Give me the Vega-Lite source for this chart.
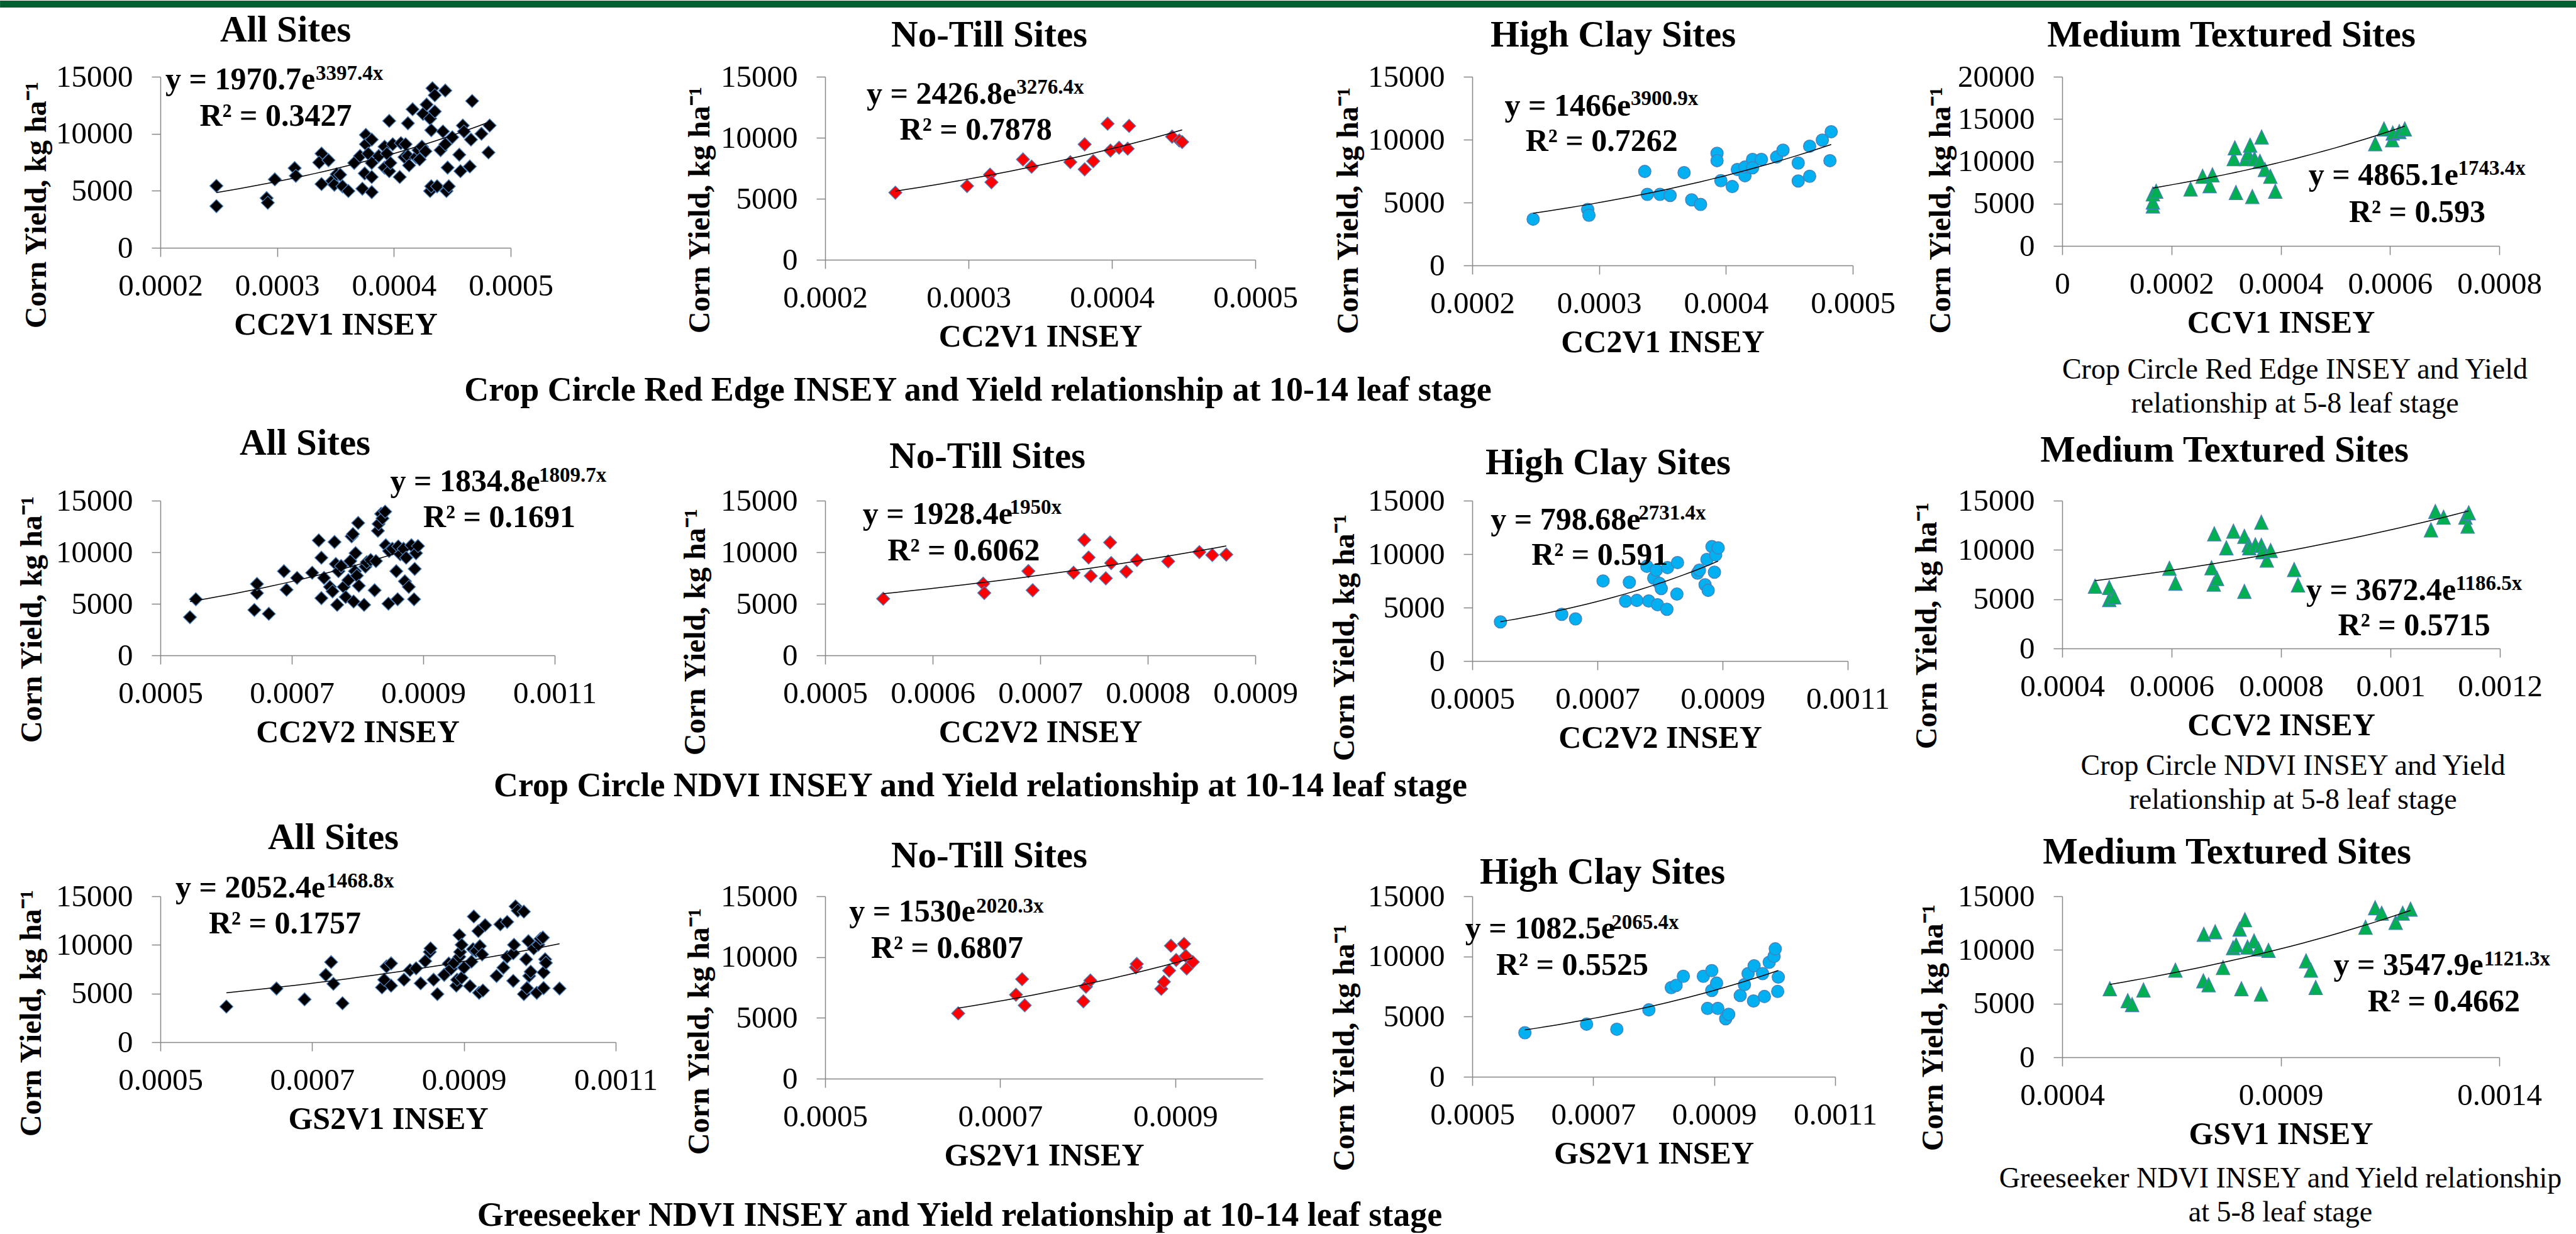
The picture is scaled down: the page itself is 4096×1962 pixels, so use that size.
{
"$schema":"https://vega.github.io/schema/vega-lite/v6.json",
"background":"#ffffff",
"padding":0,
"config":{
 "view":{"stroke":null},
 "axis":{"grid":false,"domainColor":"#868686","domainWidth":1.5,"tickColor":"#868686","tickWidth":1.5,"tickSize":14,"labelFont":"Liberation Serif","labelFontSize":49,"labelColor":"#000000","labelFlush":false,"labelOverlap":false,"titleFont":"Liberation Serif","titleFontWeight":"bold","titleColor":"#000000"},
 "axisX":{"labelPadding":22,"titleFontSize":50,"titleBaseline":"alphabetic"},
 "axisY":{"labelPadding":30}
},
"datasets":{
"p1":[{"x":0.000248,"y":5430},{"x":0.000248,"y":3650},{"x":0.000291,"y":4360},{"x":0.000292,"y":3950},{"x":0.000298,"y":6000},{"x":0.000315,"y":6990},{"x":0.000316,"y":6310},{"x":0.000338,"y":8260},{"x":0.000336,"y":7480},{"x":0.000344,"y":7680},{"x":0.000338,"y":5590},{"x":0.000347,"y":5860},{"x":0.000349,"y":5530},{"x":0.000351,"y":6450},{"x":0.000354,"y":6410},{"x":0.000356,"y":5390},{"x":0.000361,"y":4980},{"x":0.000366,"y":7440},{"x":0.000371,"y":8050},{"x":0.000373,"y":5180},{"x":0.000375,"y":6520},{"x":0.000376,"y":9900},{"x":0.000376,"y":9080},{"x":0.000378,"y":8260},{"x":0.000381,"y":4880},{"x":0.000381,"y":9490},{"x":0.000381,"y":7440},{"x":0.000381,"y":6210},{"x":0.000387,"y":8050},{"x":0.000392,"y":7030},{"x":0.000392,"y":8870},{"x":0.000394,"y":8260},{"x":0.000396,"y":11130},{"x":0.000396,"y":6720},{"x":0.000397,"y":7440},{"x":0.000399,"y":9080},{"x":0.000405,"y":6210},{"x":0.000406,"y":9180},{"x":0.000409,"y":7950},{"x":0.00041,"y":9080},{"x":0.000412,"y":10920},{"x":0.000412,"y":8050},{"x":0.000413,"y":7230},{"x":0.000416,"y":12150},{"x":0.000419,"y":7950},{"x":0.000421,"y":8560},{"x":0.000422,"y":7750},{"x":0.000424,"y":8870},{"x":0.000425,"y":11740},{"x":0.000427,"y":8460},{"x":0.000428,"y":12560},{"x":0.000431,"y":11330},{"x":0.000431,"y":4980},{"x":0.000432,"y":10310},{"x":0.000432,"y":5390},{"x":0.000433,"y":13990},{"x":0.000435,"y":11950},{"x":0.000435,"y":13380},{"x":0.000437,"y":5390},{"x":0.00044,"y":8560},{"x":0.000442,"y":10200},{"x":0.000444,"y":13790},{"x":0.000444,"y":9080},{"x":0.000445,"y":4980},{"x":0.000446,"y":7030},{"x":0.000447,"y":5390},{"x":0.00045,"y":9690},{"x":0.000456,"y":8160},{"x":0.000457,"y":6720},{"x":0.000459,"y":10720},{"x":0.00046,"y":10200},{"x":0.000466,"y":9490},{"x":0.000465,"y":7130},{"x":0.000467,"y":12870},{"x":0.000475,"y":10000},{"x":0.000482,"y":10720},{"x":0.000481,"y":8360}],
"p2":[{"x":0.000249,"y":5500},{"x":0.000299,"y":6040},{"x":0.000315,"y":6980},{"x":0.000316,"y":6350},{"x":0.000338,"y":8220},{"x":0.000344,"y":7630},{"x":0.000371,"y":8000},{"x":0.000381,"y":9460},{"x":0.000381,"y":7410},{"x":0.000387,"y":8080},{"x":0.000397,"y":11150},{"x":0.000399,"y":8950},{"x":0.000405,"y":9180},{"x":0.000411,"y":9100},{"x":0.000412,"y":10970},{"x":0.000442,"y":10090},{"x":0.000447,"y":9770},{"x":0.000449,"y":9650}],
"p3":[{"x":0.000248,"y":3680},{"x":0.000291,"y":4450},{"x":0.000292,"y":3990},{"x":0.000336,"y":7470},{"x":0.000338,"y":5650},{"x":0.000348,"y":5650},{"x":0.000356,"y":5560},{"x":0.000367,"y":7380},{"x":0.000373,"y":5210},{"x":0.00038,"y":4850},{"x":0.000393,"y":8910},{"x":0.000393,"y":8330},{"x":0.000396,"y":6740},{"x":0.000405,"y":6270},{"x":0.000409,"y":7630},{"x":0.000415,"y":7130},{"x":0.000415,"y":7820},{"x":0.000421,"y":8430},{"x":0.000421,"y":7760},{"x":0.000428,"y":8430},{"x":0.00044,"y":8620},{"x":0.000445,"y":9160},{"x":0.000457,"y":8140},{"x":0.000457,"y":6710},{"x":0.000466,"y":9480},{"x":0.000466,"y":7090},{"x":0.000476,"y":9960},{"x":0.000482,"y":8330},{"x":0.000483,"y":10630}],
"p4":[{"x":0.000166,"y":4670},{"x":0.000166,"y":5150},{"x":0.000166,"y":6110},{"x":0.000172,"y":6430},{"x":0.000235,"y":6690},{"x":0.000257,"y":8190},{"x":0.00027,"y":7070},{"x":0.000275,"y":8350},{"x":0.000314,"y":10270},{"x":0.000316,"y":11550},{"x":0.000318,"y":6270},{"x":0.000336,"y":10270},{"x":0.00034,"y":10910},{"x":0.000344,"y":11870},{"x":0.000348,"y":5790},{"x":0.000352,"y":10270},{"x":0.000362,"y":9950},{"x":0.000365,"y":12830},{"x":0.000371,"y":8990},{"x":0.000381,"y":8190},{"x":0.00039,"y":6430},{"x":0.000573,"y":12030},{"x":0.000589,"y":13790},{"x":0.000604,"y":12510},{"x":0.000605,"y":13310},{"x":0.000617,"y":13470},{"x":0.000627,"y":13790}],
"p5":[{"x":0.000545,"y":3700},{"x":0.000554,"y":5440},{"x":0.000643,"y":4400},{"x":0.000647,"y":6030},{"x":0.000647,"y":6920},{"x":0.000665,"y":4030},{"x":0.000688,"y":8160},{"x":0.000692,"y":6360},{"x":0.000708,"y":7510},{"x":0.000731,"y":8010},{"x":0.000741,"y":11150},{"x":0.000745,"y":5550},{"x":0.000745,"y":9470},{"x":0.000749,"y":7510},{"x":0.000758,"y":6640},{"x":0.000762,"y":6200},{"x":0.000765,"y":10990},{"x":0.000767,"y":8860},{"x":0.000769,"y":4900},{"x":0.000771,"y":8160},{"x":0.000775,"y":8660},{"x":0.000779,"y":6640},{"x":0.000782,"y":5660},{"x":0.000786,"y":7290},{"x":0.000789,"y":9140},{"x":0.000791,"y":11540},{"x":0.000793,"y":11760},{"x":0.000794,"y":5220},{"x":0.000796,"y":8160},{"x":0.000797,"y":9910},{"x":0.000799,"y":7730},{"x":0.000801,"y":12840},{"x":0.000802,"y":6750},{"x":0.00081,"y":4900},{"x":0.000812,"y":8600},{"x":0.000814,"y":9030},{"x":0.00082,"y":9250},{"x":0.000826,"y":6310},{"x":0.000828,"y":9140},{"x":0.000831,"y":12080},{"x":0.000832,"y":12740},{"x":0.000836,"y":13720},{"x":0.000838,"y":13280},{"x":0.000842,"y":13930},{"x":0.000843,"y":10670},{"x":0.000847,"y":5010},{"x":0.000848,"y":10120},{"x":0.000853,"y":10340},{"x":0.000859,"y":8160},{"x":0.000861,"y":5440},{"x":0.000862,"y":10560},{"x":0.000865,"y":9800},{"x":0.00087,"y":10340},{"x":0.000872,"y":7180},{"x":0.000874,"y":9470},{"x":0.000878,"y":6640},{"x":0.000882,"y":10670},{"x":0.000886,"y":5440},{"x":0.000887,"y":8380},{"x":0.000889,"y":9910},{"x":0.000892,"y":10600}],
"p6":[{"x":0.000554,"y":5490},{"x":0.000647,"y":6950},{"x":0.000648,"y":6050},{"x":0.000689,"y":8170},{"x":0.000693,"y":6310},{"x":0.000731,"y":8010},{"x":0.000741,"y":11190},{"x":0.000745,"y":9490},{"x":0.000747,"y":7700},{"x":0.000761,"y":7470},{"x":0.000765,"y":10950},{"x":0.000766,"y":8950},{"x":0.00078,"y":8120},{"x":0.00079,"y":9230},{"x":0.000819,"y":9110},{"x":0.000848,"y":10010},{"x":0.00086,"y":9730},{"x":0.000873,"y":9770}],
"p7":[{"x":0.000545,"y":3660},{"x":0.000643,"y":4370},{"x":0.000665,"y":3940},{"x":0.000709,"y":7490},{"x":0.000745,"y":5600},{"x":0.000751,"y":7370},{"x":0.000763,"y":5670},{"x":0.000779,"y":8860},{"x":0.000782,"y":5620},{"x":0.00079,"y":7750},{"x":0.000794,"y":8500},{"x":0.000796,"y":5270},{"x":0.000799,"y":7270},{"x":0.000802,"y":6780},{"x":0.000811,"y":4840},{"x":0.000812,"y":8740},{"x":0.000827,"y":6260},{"x":0.000828,"y":9210},{"x":0.00086,"y":8220},{"x":0.000863,"y":8500},{"x":0.000872,"y":7130},{"x":0.000875,"y":9500},{"x":0.000877,"y":6610},{"x":0.000883,"y":10700},{"x":0.000887,"y":8310},{"x":0.000889,"y":9920},{"x":0.000893,"y":10580}],
"p8":[{"x":0.00046,"y":6280},{"x":0.000486,"y":6150},{"x":0.000486,"y":4930},{"x":0.000495,"y":5190},{"x":0.000596,"y":8100},{"x":0.000607,"y":6590},{"x":0.000673,"y":8150},{"x":0.000677,"y":6490},{"x":0.000683,"y":7060},{"x":0.000678,"y":11600},{"x":0.0007,"y":10170},{"x":0.000713,"y":11860},{"x":0.000733,"y":11340},{"x":0.000733,"y":5760},{"x":0.000741,"y":10480},{"x":0.000742,"y":10170},{"x":0.000753,"y":10480},{"x":0.000764,"y":10430},{"x":0.000764,"y":12770},{"x":0.000766,"y":9780},{"x":0.000774,"y":8930},{"x":0.000781,"y":9910},{"x":0.000824,"y":7970},{"x":0.000831,"y":6410},{"x":0.001074,"y":11990},{"x":0.001082,"y":13860},{"x":0.001097,"y":13290},{"x":0.001137,"y":13290},{"x":0.001141,"y":12380},{"x":0.001143,"y":13730}],
"p9":[{"x":0.000587,"y":3660},{"x":0.000653,"y":5510},{"x":0.00069,"y":4400},{"x":0.000718,"y":6920},{"x":0.000725,"y":8230},{"x":0.000728,"y":6000},{"x":0.00074,"y":4000},{"x":0.000792,"y":5630},{"x":0.000795,"y":6420},{"x":0.000798,"y":7780},{"x":0.000804,"y":5810},{"x":0.000804,"y":8100},{"x":0.000821,"y":6420},{"x":0.000829,"y":7410},{"x":0.000837,"y":7590},{"x":0.000843,"y":6050},{"x":0.000849,"y":8330},{"x":0.000855,"y":9270},{"x":0.000856,"y":9640},{"x":0.00086,"y":6420},{"x":0.000865,"y":4940},{"x":0.000874,"y":6920},{"x":0.00088,"y":8080},{"x":0.000883,"y":7540},{"x":0.000887,"y":8150},{"x":0.00089,"y":5810},{"x":0.000891,"y":6420},{"x":0.000894,"y":11000},{"x":0.000894,"y":8770},{"x":0.000895,"y":9270},{"x":0.000897,"y":10010},{"x":0.000897,"y":6620},{"x":0.0009,"y":7660},{"x":0.000908,"y":5760},{"x":0.00091,"y":8280},{"x":0.000913,"y":12920},{"x":0.000912,"y":9560},{"x":0.000916,"y":9390},{"x":0.000919,"y":11420},{"x":0.00092,"y":5070},{"x":0.000921,"y":9880},{"x":0.000924,"y":9020},{"x":0.000925,"y":5310},{"x":0.000928,"y":12030},{"x":0.000943,"y":6800},{"x":0.000948,"y":12110},{"x":0.000952,"y":7660},{"x":0.000957,"y":12360},{"x":0.000957,"y":8770},{"x":0.000965,"y":9140},{"x":0.000965,"y":6300},{"x":0.000966,"y":10010},{"x":0.000968,"y":13960},{"x":0.000971,"y":13520},{"x":0.000979,"y":13420},{"x":0.000979,"y":4940},{"x":0.000982,"y":8520},{"x":0.000983,"y":5560},{"x":0.000985,"y":10380},{"x":0.000986,"y":6800},{"x":0.000988,"y":7240},{"x":0.000992,"y":9640},{"x":0.000996,"y":5070},{"x":0.000998,"y":10010},{"x":0.001001,"y":10630},{"x":0.001004,"y":10750},{"x":0.001005,"y":5560},{"x":0.001005,"y":7170},{"x":0.001007,"y":8520},{"x":0.001008,"y":8150},{"x":0.001026,"y":5510}],
"p10":[{"x":0.000652,"y":5370},{"x":0.000718,"y":6900},{"x":0.000725,"y":8180},{"x":0.000728,"y":6030},{"x":0.000795,"y":6360},{"x":0.000798,"y":7560},{"x":0.000803,"y":8070},{"x":0.000855,"y":9150},{"x":0.000856,"y":9430},{"x":0.000884,"y":7390},{"x":0.000887,"y":7960},{"x":0.000893,"y":8880},{"x":0.000895,"y":10930},{"x":0.000901,"y":9760},{"x":0.00091,"y":11080},{"x":0.000912,"y":10090},{"x":0.000913,"y":9060},{"x":0.00092,"y":9590}],
"p11":[{"x":0.000587,"y":3660},{"x":0.000689,"y":4370},{"x":0.000739,"y":3950},{"x":0.000792,"y":5560},{"x":0.000829,"y":7410},{"x":0.000837,"y":7590},{"x":0.000849,"y":8350},{"x":0.000882,"y":8350},{"x":0.000889,"y":5680},{"x":0.000896,"y":8820},{"x":0.000896,"y":7170},{"x":0.000904,"y":7780},{"x":0.000906,"y":5680},{"x":0.000919,"y":4820},{"x":0.000924,"y":5190},{"x":0.000943,"y":6750},{"x":0.00095,"y":7660},{"x":0.000956,"y":8570},{"x":0.000965,"y":6300},{"x":0.000966,"y":9220},{"x":0.00098,"y":8570},{"x":0.000983,"y":6670},{"x":0.000991,"y":9510},{"x":0.000999,"y":10010},{"x":0.001001,"y":10630},{"x":0.001005,"y":7090},{"x":0.001006,"y":8280}],
"p12":[{"x":0.000509,"y":6350},{"x":0.00055,"y":5240},{"x":0.00056,"y":4870},{"x":0.000586,"y":6230},{"x":0.000659,"y":8080},{"x":0.000723,"y":7090},{"x":0.000735,"y":6720},{"x":0.000724,"y":11420},{"x":0.00075,"y":11660},{"x":0.000768,"y":8330},{"x":0.000791,"y":10180},{"x":0.000798,"y":10430},{"x":0.000806,"y":11910},{"x":0.000818,"y":12780},{"x":0.00081,"y":6350},{"x":0.000824,"y":10230},{"x":0.000839,"y":10800},{"x":0.000849,"y":10060},{"x":0.000855,"y":5860},{"x":0.000872,"y":9930},{"x":0.000958,"y":8950},{"x":0.000969,"y":8080},{"x":0.00098,"y":6470},{"x":0.001094,"y":12080},{"x":0.001116,"y":13890},{"x":0.001131,"y":13390},{"x":0.001163,"y":12530},{"x":0.001179,"y":13390},{"x":0.001197,"y":13760}]
},
"columns":4,
"spacing":{"row":374,"column":333},
"bounds":"flush",
"align":"each",
"concat":[
{"width":557,"height":272,"layer":[
 {"data":{"name":"p1"},"mark":{"type":"point","shape":"diamond","filled":true,"fill":"#000000","stroke":"#4a7ebb","strokeWidth":1.3,"size":440,"opacity":1},
  "encoding":{"x":{"field":"x","type":"quantitative","scale":{"domain":[0.0002,0.0005],"nice":false,"zero":false},"axis":{"values":[0.0002,0.0003,0.0004,0.0005],"format":"~g","title":"CC2V1 INSEY","titleY":137}},
   "y":{"field":"y","type":"quantitative","scale":{"domain":[0,15000],"nice":false,"zero":false},"axis":{"values":[0,5000,10000,15000],"format":"d","title":null}}}},
 {"data":{"name":"p1"},"transform":[{"regression":"y","on":"x","method":"exp"}],"mark":{"type":"line","color":"#000000","strokeWidth":1.5},"encoding":{"x":{"field":"x","type":"quantitative"},"y":{"field":"y","type":"quantitative"}}},
 {"data":{"values":[{"label":"Corn Yield, kg ha⁻¹"}]},"mark":{"type":"text","font":"Liberation Serif","fontSize":48,"fontWeight":"bold","align":"center","baseline":"top","angle":270,"color":"#000000"},"encoding":{"text":{"field":"label"},"x":{"datum":0.0000813},"y":{"datum":3750}}},
 {"data":{"values":[{"label":"All Sites"}]},"mark":{"type":"text","font":"Liberation Serif","fontSize":59,"fontWeight":"bold","align":"center","baseline":"alphabetic","color":"#000000"},"encoding":{"text":{"field":"label"},"x":{"datum":0.0003072},"y":{"datum":18088}}},
 {"data":{"values":[{"label":"y = 1970.7e"}]},"mark":{"type":"text","font":"Liberation Serif","fontSize":50,"fontWeight":"bold","align":"left","baseline":"alphabetic","color":"#000000"},"encoding":{"text":{"field":"label"},"x":{"datum":0.0002043},"y":{"datum":13891}}},
 {"data":{"values":[{"label":"3397.4x"}]},"mark":{"type":"text","font":"Liberation Serif","fontSize":33,"fontWeight":"bold","align":"left","baseline":"alphabetic","color":"#000000"},"encoding":{"text":{"field":"label"},"x":{"datum":0.000333},"y":{"datum":14724}}},
 {"data":{"values":[{"label":"R² = 0.3427"}]},"mark":{"type":"text","font":"Liberation Serif","fontSize":50,"fontWeight":"bold","align":"left","baseline":"alphabetic","color":"#000000"},"encoding":{"text":{"field":"label"},"x":{"datum":0.0002336},"y":{"datum":10725}}},
 {"data":{"values":[{"band":"header"}]},"mark":{"type":"rect","color":"#00602f"},"encoding":{"x":{"datum":0.0000627},"x2":{"datum":0.0023},"y":{"datum":21673},"y2":{"datum":21066}}}
]},
{"width":684,"height":291,"layer":[
 {"data":{"name":"p2"},"mark":{"type":"point","shape":"diamond","filled":true,"fill":"#ff0000","stroke":"#4a7ebb","strokeWidth":1.3,"size":440,"opacity":1},
  "encoding":{"x":{"field":"x","type":"quantitative","scale":{"domain":[0.0002,0.0005],"nice":false,"zero":false},"axis":{"values":[0.0002,0.0003,0.0004,0.0005],"format":"~g","title":"CC2V1 INSEY","titleY":137}},
   "y":{"field":"y","type":"quantitative","scale":{"domain":[0,15000],"nice":false,"zero":false},"axis":{"values":[0,5000,10000,15000],"format":"d","title":null}}}},
 {"data":{"name":"p2"},"transform":[{"regression":"y","on":"x","method":"exp"}],"mark":{"type":"line","color":"#000000","strokeWidth":1.5},"encoding":{"x":{"field":"x","type":"quantitative"},"y":{"field":"y","type":"quantitative"}}},
 {"data":{"values":[{"label":"Corn Yield, kg ha⁻¹"}]},"mark":{"type":"text","font":"Liberation Serif","fontSize":48,"fontWeight":"bold","align":"center","baseline":"top","angle":270,"color":"#000000"},"encoding":{"text":{"field":"label"},"x":{"datum":0.0001026},"y":{"datum":4072}}},
 {"data":{"values":[{"label":"No-Till Sites"}]},"mark":{"type":"text","font":"Liberation Serif","fontSize":59,"fontWeight":"bold","align":"center","baseline":"alphabetic","color":"#000000"},"encoding":{"text":{"field":"label"},"x":{"datum":0.0003145},"y":{"datum":17474}}},
 {"data":{"values":[{"label":"y = 2426.8e"}]},"mark":{"type":"text","font":"Liberation Serif","fontSize":50,"fontWeight":"bold","align":"left","baseline":"alphabetic","color":"#000000"},"encoding":{"text":{"field":"label"},"x":{"datum":0.000229},"y":{"datum":12799}}},
 {"data":{"values":[{"label":"3276.4x"}]},"mark":{"type":"text","font":"Liberation Serif","fontSize":33,"fontWeight":"bold","align":"left","baseline":"alphabetic","color":"#000000"},"encoding":{"text":{"field":"label"},"x":{"datum":0.0003334},"y":{"datum":13629}}},
 {"data":{"values":[{"label":"R² = 0.7878"}]},"mark":{"type":"text","font":"Liberation Serif","fontSize":50,"fontWeight":"bold","align":"left","baseline":"alphabetic","color":"#000000"},"encoding":{"text":{"field":"label"},"x":{"datum":0.000252},"y":{"datum":9835}}},
 {"data":{"values":[{"label":"Crop Circle Red Edge INSEY and Yield relationship at 10-14 leaf stage"}]},"mark":{"type":"text","font":"Liberation Serif","fontSize":54,"fontWeight":"bold","align":"center","baseline":"alphabetic","color":"#000000"},"encoding":{"text":{"field":"label"},"x":{"datum":0.0003066},"y":{"datum":-11546}}}
]},
{"width":605,"height":300,"layer":[
 {"data":{"name":"p3"},"mark":{"type":"point","shape":"circle","filled":true,"fill":"#00b0f0","stroke":"#4a7ebb","strokeWidth":1.3,"size":390,"opacity":1},
  "encoding":{"x":{"field":"x","type":"quantitative","scale":{"domain":[0.0002,0.0005],"nice":false,"zero":false},"axis":{"values":[0.0002,0.0003,0.0004,0.0005],"format":"~g","title":"CC2V1 INSEY","titleY":137}},
   "y":{"field":"y","type":"quantitative","scale":{"domain":[0,15000],"nice":false,"zero":false},"axis":{"values":[0,5000,10000,15000],"format":"d","title":null}}}},
 {"data":{"name":"p3"},"transform":[{"regression":"y","on":"x","method":"exp"}],"mark":{"type":"line","color":"#000000","strokeWidth":1.5},"encoding":{"x":{"field":"x","type":"quantitative"},"y":{"field":"y","type":"quantitative"}}},
 {"data":{"values":[{"label":"Corn Yield, kg ha⁻¹"}]},"mark":{"type":"text","font":"Liberation Serif","fontSize":48,"fontWeight":"bold","align":"center","baseline":"top","angle":270,"color":"#000000"},"encoding":{"text":{"field":"label"},"x":{"datum":0.0000909},"y":{"datum":4350}}},
 {"data":{"values":[{"label":"High Clay Sites"}]},"mark":{"type":"text","font":"Liberation Serif","fontSize":59,"fontWeight":"bold","align":"center","baseline":"alphabetic","color":"#000000"},"encoding":{"text":{"field":"label"},"x":{"datum":0.0003111},"y":{"datum":17400}}},
 {"data":{"values":[{"label":"y = 1466e"}]},"mark":{"type":"text","font":"Liberation Serif","fontSize":50,"fontWeight":"bold","align":"left","baseline":"alphabetic","color":"#000000"},"encoding":{"text":{"field":"label"},"x":{"datum":0.0002255},"y":{"datum":11925}}},
 {"data":{"values":[{"label":"3900.9x"}]},"mark":{"type":"text","font":"Liberation Serif","fontSize":33,"fontWeight":"bold","align":"left","baseline":"alphabetic","color":"#000000"},"encoding":{"text":{"field":"label"},"x":{"datum":0.000325},"y":{"datum":12770}}},
 {"data":{"values":[{"label":"R² = 0.7262"}]},"mark":{"type":"text","font":"Liberation Serif","fontSize":50,"fontWeight":"bold","align":"left","baseline":"alphabetic","color":"#000000"},"encoding":{"text":{"field":"label"},"x":{"datum":0.000242},"y":{"datum":9105}}}
]},
{"width":695,"height":269,"layer":[
 {"data":{"name":"p4"},"mark":{"type":"point","shape":"M0,-1.1L1,1L-1,1Z","filled":true,"fill":"#00b050","stroke":"#4a7ebb","strokeWidth":1.3,"size":462,"opacity":1},
  "encoding":{"x":{"field":"x","type":"quantitative","scale":{"domain":[0,0.0008],"nice":false,"zero":false},"axis":{"values":[0,0.0002,0.0004,0.0006,0.0008],"format":"~g","title":"CCV1 INSEY","titleY":137}},
   "y":{"field":"y","type":"quantitative","scale":{"domain":[0,20000],"nice":false,"zero":false},"axis":{"values":[0,5000,10000,15000,20000],"format":"d","title":null}}}},
 {"data":{"name":"p4"},"transform":[{"regression":"y","on":"x","method":"exp"}],"mark":{"type":"line","color":"#000000","strokeWidth":1.5},"encoding":{"x":{"field":"x","type":"quantitative"},"y":{"field":"y","type":"quantitative"}}},
 {"data":{"values":[{"label":"Corn Yield, kg ha⁻¹"}]},"mark":{"type":"text","font":"Liberation Serif","fontSize":48,"fontWeight":"bold","align":"center","baseline":"top","angle":270,"color":"#000000"},"encoding":{"text":{"field":"label"},"x":{"datum":-0.0002486},"y":{"datum":4201}}},
 {"data":{"values":[{"label":"Medium Textured Sites"}]},"mark":{"type":"text","font":"Liberation Serif","fontSize":59,"fontWeight":"bold","align":"center","baseline":"alphabetic","color":"#000000"},"encoding":{"text":{"field":"label"},"x":{"datum":0.0003097},"y":{"datum":23569}}},
 {"data":{"values":[{"label":"y = 4865.1e"}]},"mark":{"type":"text","font":"Liberation Serif","fontSize":50,"fontWeight":"bold","align":"left","baseline":"alphabetic","color":"#000000"},"encoding":{"text":{"field":"label"},"x":{"datum":0.000451},"y":{"datum":7190}}},
 {"data":{"values":[{"label":"1743.4x"}]},"mark":{"type":"text","font":"Liberation Serif","fontSize":33,"fontWeight":"bold","align":"left","baseline":"alphabetic","color":"#000000"},"encoding":{"text":{"field":"label"},"x":{"datum":0.0007247},"y":{"datum":8386}}},
 {"data":{"values":[{"label":"R² = 0.593"}]},"mark":{"type":"text","font":"Liberation Serif","fontSize":50,"fontWeight":"bold","align":"left","baseline":"alphabetic","color":"#000000"},"encoding":{"text":{"field":"label"},"x":{"datum":0.0005249},"y":{"datum":2810}}},
 {"data":{"values":[{"label":"Crop Circle Red Edge INSEY and Yield\nrelationship at 5-8 leaf stage"}]},"mark":{"type":"text","font":"Liberation Serif","fontSize":46,"fontWeight":"normal","align":"center","baseline":"alphabetic","lineBreak":"\n","lineHeight":54,"color":"#000000"},"encoding":{"text":{"field":"label"},"x":{"datum":0.0004259},"y":{"datum":-15688}}}
]},
{"width":627,"height":246,"layer":[
 {"data":{"name":"p5"},"mark":{"type":"point","shape":"diamond","filled":true,"fill":"#000000","stroke":"#4a7ebb","strokeWidth":1.3,"size":440,"opacity":1},
  "encoding":{"x":{"field":"x","type":"quantitative","scale":{"domain":[0.0005,0.0011],"nice":false,"zero":false},"axis":{"values":[0.0005,0.0007,0.0009,0.0011],"format":"~g","title":"CC2V2 INSEY","titleY":137}},
   "y":{"field":"y","type":"quantitative","scale":{"domain":[0,15000],"nice":false,"zero":false},"axis":{"values":[0,5000,10000,15000],"format":"d","title":null}}}},
 {"data":{"name":"p5"},"transform":[{"regression":"y","on":"x","method":"exp"}],"mark":{"type":"line","color":"#000000","strokeWidth":1.5},"encoding":{"x":{"field":"x","type":"quantitative"},"y":{"field":"y","type":"quantitative"}}},
 {"data":{"values":[{"label":"Corn Yield, kg ha⁻¹"}]},"mark":{"type":"text","font":"Liberation Serif","fontSize":48,"fontWeight":"bold","align":"center","baseline":"top","angle":270,"color":"#000000"},"encoding":{"text":{"field":"label"},"x":{"datum":0.0002828},"y":{"datum":3476}}},
 {"data":{"values":[{"label":"All Sites"}]},"mark":{"type":"text","font":"Liberation Serif","fontSize":59,"fontWeight":"bold","align":"center","baseline":"alphabetic","color":"#000000"},"encoding":{"text":{"field":"label"},"x":{"datum":0.0007201},"y":{"datum":19451}}},
 {"data":{"values":[{"label":"y = 1834.8e"}]},"mark":{"type":"text","font":"Liberation Serif","fontSize":50,"fontWeight":"bold","align":"left","baseline":"alphabetic","color":"#000000"},"encoding":{"text":{"field":"label"},"x":{"datum":0.0008497},"y":{"datum":15945}}},
 {"data":{"values":[{"label":"1809.7x"}]},"mark":{"type":"text","font":"Liberation Serif","fontSize":33,"fontWeight":"bold","align":"left","baseline":"alphabetic","color":"#000000"},"encoding":{"text":{"field":"label"},"x":{"datum":0.0010761},"y":{"datum":16817}}},
 {"data":{"values":[{"label":"R² = 0.1691"}]},"mark":{"type":"text","font":"Liberation Serif","fontSize":50,"fontWeight":"bold","align":"left","baseline":"alphabetic","color":"#000000"},"encoding":{"text":{"field":"label"},"x":{"datum":0.0009},"y":{"datum":12433}}}
]},
{"width":684,"height":246,"layer":[
 {"data":{"name":"p6"},"mark":{"type":"point","shape":"diamond","filled":true,"fill":"#ff0000","stroke":"#4a7ebb","strokeWidth":1.3,"size":440,"opacity":1},
  "encoding":{"x":{"field":"x","type":"quantitative","scale":{"domain":[0.0005,0.0009],"nice":false,"zero":false},"axis":{"values":[0.0005,0.0006,0.0007,0.0008,0.0009],"format":"~g","title":"CC2V2 INSEY","titleY":137}},
   "y":{"field":"y","type":"quantitative","scale":{"domain":[0,15000],"nice":false,"zero":false},"axis":{"values":[0,5000,10000,15000],"format":"d","title":null}}}},
 {"data":{"name":"p6"},"transform":[{"regression":"y","on":"x","method":"exp"}],"mark":{"type":"line","color":"#000000","strokeWidth":1.5},"encoding":{"x":{"field":"x","type":"quantitative"},"y":{"field":"y","type":"quantitative"}}},
 {"data":{"values":[{"label":"Corn Yield, kg ha⁻¹"}]},"mark":{"type":"text","font":"Liberation Serif","fontSize":48,"fontWeight":"bold","align":"center","baseline":"top","angle":270,"color":"#000000"},"encoding":{"text":{"field":"label"},"x":{"datum":0.0003661},"y":{"datum":2256}}},
 {"data":{"values":[{"label":"No-Till Sites"}]},"mark":{"type":"text","font":"Liberation Serif","fontSize":59,"fontWeight":"bold","align":"center","baseline":"alphabetic","color":"#000000"},"encoding":{"text":{"field":"label"},"x":{"datum":0.0006509},"y":{"datum":18171}}},
 {"data":{"values":[{"label":"y = 1928.4e"}]},"mark":{"type":"text","font":"Liberation Serif","fontSize":50,"fontWeight":"bold","align":"left","baseline":"alphabetic","color":"#000000"},"encoding":{"text":{"field":"label"},"x":{"datum":0.0005349},"y":{"datum":12720}}},
 {"data":{"values":[{"label":"1950x"}]},"mark":{"type":"text","font":"Liberation Serif","fontSize":33,"fontWeight":"bold","align":"left","baseline":"alphabetic","color":"#000000"},"encoding":{"text":{"field":"label"},"x":{"datum":0.0006717},"y":{"datum":13730}}},
 {"data":{"values":[{"label":"R² = 0.6062"}]},"mark":{"type":"text","font":"Liberation Serif","fontSize":50,"fontWeight":"bold","align":"left","baseline":"alphabetic","color":"#000000"},"encoding":{"text":{"field":"label"},"x":{"datum":0.0005581},"y":{"datum":9230}}},
 {"data":{"values":[{"label":"Crop Circle NDVI INSEY and Yield relationship at 10-14 leaf stage"}]},"mark":{"type":"text","font":"Liberation Serif","fontSize":54,"fontWeight":"bold","align":"center","baseline":"alphabetic","color":"#000000"},"encoding":{"text":{"field":"label"},"x":{"datum":0.0006444},"y":{"datum":-13659}}}
]},
{"width":597,"height":255,"layer":[
 {"data":{"name":"p7"},"mark":{"type":"point","shape":"circle","filled":true,"fill":"#00b0f0","stroke":"#4a7ebb","strokeWidth":1.3,"size":390,"opacity":1},
  "encoding":{"x":{"field":"x","type":"quantitative","scale":{"domain":[0.0005,0.0011],"nice":false,"zero":false},"axis":{"values":[0.0005,0.0007,0.0009,0.0011],"format":"~g","title":"CC2V2 INSEY","titleY":137}},
   "y":{"field":"y","type":"quantitative","scale":{"domain":[0,15000],"nice":false,"zero":false},"axis":{"values":[0,5000,10000,15000],"format":"d","title":null}}}},
 {"data":{"name":"p7"},"transform":[{"regression":"y","on":"x","method":"exp"}],"mark":{"type":"line","color":"#000000","strokeWidth":1.5},"encoding":{"x":{"field":"x","type":"quantitative"},"y":{"field":"y","type":"quantitative"}}},
 {"data":{"values":[{"label":"Corn Yield, kg ha⁻¹"}]},"mark":{"type":"text","font":"Liberation Serif","fontSize":48,"fontWeight":"bold","align":"center","baseline":"top","angle":270,"color":"#000000"},"encoding":{"text":{"field":"label"},"x":{"datum":0.0002729},"y":{"datum":2176}}},
 {"data":{"values":[{"label":"High Clay Sites"}]},"mark":{"type":"text","font":"Liberation Serif","fontSize":59,"fontWeight":"bold","align":"center","baseline":"alphabetic","color":"#000000"},"encoding":{"text":{"field":"label"},"x":{"datum":0.0007171},"y":{"datum":17471}}},
 {"data":{"values":[{"label":"y = 798.68e"}]},"mark":{"type":"text","font":"Liberation Serif","fontSize":50,"fontWeight":"bold","align":"left","baseline":"alphabetic","color":"#000000"},"encoding":{"text":{"field":"label"},"x":{"datum":0.0005294},"y":{"datum":12318}}},
 {"data":{"values":[{"label":"2731.4x"}]},"mark":{"type":"text","font":"Liberation Serif","fontSize":33,"fontWeight":"bold","align":"left","baseline":"alphabetic","color":"#000000"},"encoding":{"text":{"field":"label"},"x":{"datum":0.0007655},"y":{"datum":13224}}},
 {"data":{"values":[{"label":"R² = 0.591"}]},"mark":{"type":"text","font":"Liberation Serif","fontSize":50,"fontWeight":"bold","align":"left","baseline":"alphabetic","color":"#000000"},"encoding":{"text":{"field":"label"},"x":{"datum":0.0005947},"y":{"datum":8994}}}
]},
{"width":696,"height":235,"layer":[
 {"data":{"name":"p8"},"mark":{"type":"point","shape":"M0,-1.1L1,1L-1,1Z","filled":true,"fill":"#00b050","stroke":"#4a7ebb","strokeWidth":1.3,"size":462,"opacity":1},
  "encoding":{"x":{"field":"x","type":"quantitative","scale":{"domain":[0.0004,0.0012],"nice":false,"zero":false},"axis":{"values":[0.0004,0.0006,0.0008,0.001,0.0012],"format":"~g","title":"CCV2 INSEY","titleY":137}},
   "y":{"field":"y","type":"quantitative","scale":{"domain":[0,15000],"nice":false,"zero":false},"axis":{"values":[0,5000,10000,15000],"format":"d","title":null}}}},
 {"data":{"name":"p8"},"transform":[{"regression":"y","on":"x","method":"exp"}],"mark":{"type":"line","color":"#000000","strokeWidth":1.5},"encoding":{"x":{"field":"x","type":"quantitative"},"y":{"field":"y","type":"quantitative"}}},
 {"data":{"values":[{"label":"Corn Yield, kg ha⁻¹"}]},"mark":{"type":"text","font":"Liberation Serif","fontSize":48,"fontWeight":"bold","align":"center","baseline":"top","angle":270,"color":"#000000"},"encoding":{"text":{"field":"label"},"x":{"datum":0.0001264},"y":{"datum":2298}}},
 {"data":{"values":[{"label":"Medium Textured Sites"}]},"mark":{"type":"text","font":"Liberation Serif","fontSize":59,"fontWeight":"bold","align":"center","baseline":"alphabetic","color":"#000000"},"encoding":{"text":{"field":"label"},"x":{"datum":0.0006966},"y":{"datum":18957}}},
 {"data":{"values":[{"label":"y = 3672.4e"}]},"mark":{"type":"text","font":"Liberation Serif","fontSize":50,"fontWeight":"bold","align":"left","baseline":"alphabetic","color":"#000000"},"encoding":{"text":{"field":"label"},"x":{"datum":0.0008461},"y":{"datum":4902}}},
 {"data":{"values":[{"label":"1186.5x"}]},"mark":{"type":"text","font":"Liberation Serif","fontSize":33,"fontWeight":"bold","align":"left","baseline":"alphabetic","color":"#000000"},"encoding":{"text":{"field":"label"},"x":{"datum":0.0011193},"y":{"datum":5930}}},
 {"data":{"values":[{"label":"R² = 0.5715"}]},"mark":{"type":"text","font":"Liberation Serif","fontSize":50,"fontWeight":"bold","align":"left","baseline":"alphabetic","color":"#000000"},"encoding":{"text":{"field":"label"},"x":{"datum":0.0009041},"y":{"datum":1347}}},
 {"data":{"values":[{"label":"Crop Circle NDVI INSEY and Yield\nrelationship at 5-8 leaf stage"}]},"mark":{"type":"text","font":"Liberation Serif","fontSize":46,"fontWeight":"normal","align":"center","baseline":"alphabetic","lineBreak":"\n","lineHeight":54,"color":"#000000"},"encoding":{"text":{"field":"label"},"x":{"datum":0.0008218},"y":{"datum":-12830}}}
]},
{"width":724,"height":232,"layer":[
 {"data":{"name":"p9"},"mark":{"type":"point","shape":"diamond","filled":true,"fill":"#000000","stroke":"#4a7ebb","strokeWidth":1.3,"size":440,"opacity":1},
  "encoding":{"x":{"field":"x","type":"quantitative","scale":{"domain":[0.0005,0.0011],"nice":false,"zero":false},"axis":{"values":[0.0005,0.0007,0.0009,0.0011],"format":"~g","title":"GS2V1 INSEY","titleY":137}},
   "y":{"field":"y","type":"quantitative","scale":{"domain":[0,15000],"nice":false,"zero":false},"axis":{"values":[0,5000,10000,15000],"format":"d","title":null}}}},
 {"data":{"name":"p9"},"transform":[{"regression":"y","on":"x","method":"exp"}],"mark":{"type":"line","color":"#000000","strokeWidth":1.5},"encoding":{"x":{"field":"x","type":"quantitative"},"y":{"field":"y","type":"quantitative"}}},
 {"data":{"values":[{"label":"Corn Yield, kg ha⁻¹"}]},"mark":{"type":"text","font":"Liberation Serif","fontSize":48,"fontWeight":"bold","align":"center","baseline":"top","angle":270,"color":"#000000"},"encoding":{"text":{"field":"label"},"x":{"datum":0.000311},"y":{"datum":2974}}},
 {"data":{"values":[{"label":"All Sites"}]},"mark":{"type":"text","font":"Liberation Serif","fontSize":59,"fontWeight":"bold","align":"center","baseline":"alphabetic","color":"#000000"},"encoding":{"text":{"field":"label"},"x":{"datum":0.0007279},"y":{"datum":19849}}},
 {"data":{"values":[{"label":"y = 2052.4e"}]},"mark":{"type":"text","font":"Liberation Serif","fontSize":50,"fontWeight":"bold","align":"left","baseline":"alphabetic","color":"#000000"},"encoding":{"text":{"field":"label"},"x":{"datum":0.0005198},"y":{"datum":14877}}},
 {"data":{"values":[{"label":"1468.8x"}]},"mark":{"type":"text","font":"Liberation Serif","fontSize":33,"fontWeight":"bold","align":"left","baseline":"alphabetic","color":"#000000"},"encoding":{"text":{"field":"label"},"x":{"datum":0.0007189},"y":{"datum":15873}}},
 {"data":{"values":[{"label":"R² = 0.1757"}]},"mark":{"type":"text","font":"Liberation Serif","fontSize":50,"fontWeight":"bold","align":"left","baseline":"alphabetic","color":"#000000"},"encoding":{"text":{"field":"label"},"x":{"datum":0.0005638},"y":{"datum":11179}}}
]},
{"width":696,"height":290,"layer":[
 {"data":{"name":"p10"},"mark":{"type":"point","shape":"diamond","filled":true,"fill":"#ff0000","stroke":"#4a7ebb","strokeWidth":1.3,"size":440,"opacity":1},
  "encoding":{"x":{"field":"x","type":"quantitative","scale":{"domain":[0.0005,0.001],"nice":false,"zero":false},"axis":{"values":[0.0005,0.0007,0.0009],"format":"~g","title":"GS2V1 INSEY","titleY":137}},
   "y":{"field":"y","type":"quantitative","scale":{"domain":[0,15000],"nice":false,"zero":false},"axis":{"values":[0,5000,10000,15000],"format":"d","title":null}}}},
 {"data":{"name":"p10"},"transform":[{"regression":"y","on":"x","method":"exp"}],"mark":{"type":"line","color":"#000000","strokeWidth":1.5},"encoding":{"x":{"field":"x","type":"quantitative"},"y":{"field":"y","type":"quantitative"}}},
 {"data":{"values":[{"label":"Corn Yield, kg ha⁻¹"}]},"mark":{"type":"text","font":"Liberation Serif","fontSize":48,"fontWeight":"bold","align":"center","baseline":"top","angle":270,"color":"#000000"},"encoding":{"text":{"field":"label"},"x":{"datum":0.0003398},"y":{"datum":3879}}},
 {"data":{"values":[{"label":"No-Till Sites"}]},"mark":{"type":"text","font":"Liberation Serif","fontSize":59,"fontWeight":"bold","align":"center","baseline":"alphabetic","color":"#000000"},"encoding":{"text":{"field":"label"},"x":{"datum":0.0006875},"y":{"datum":17379}}},
 {"data":{"values":[{"label":"y = 1530e"}]},"mark":{"type":"text","font":"Liberation Serif","fontSize":50,"fontWeight":"bold","align":"left","baseline":"alphabetic","color":"#000000"},"encoding":{"text":{"field":"label"},"x":{"datum":0.0005274},"y":{"datum":12942}}},
 {"data":{"values":[{"label":"2020.3x"}]},"mark":{"type":"text","font":"Liberation Serif","fontSize":33,"fontWeight":"bold","align":"left","baseline":"alphabetic","color":"#000000"},"encoding":{"text":{"field":"label"},"x":{"datum":0.0006726},"y":{"datum":13660}}},
 {"data":{"values":[{"label":"R² = 0.6807"}]},"mark":{"type":"text","font":"Liberation Serif","fontSize":50,"fontWeight":"bold","align":"left","baseline":"alphabetic","color":"#000000"},"encoding":{"text":{"field":"label"},"x":{"datum":0.0005524},"y":{"datum":9915}}},
 {"data":{"values":[{"label":"Greeseeker NDVI INSEY and Yield relationship at 10-14 leaf stage"}]},"mark":{"type":"text","font":"Liberation Serif","fontSize":54,"fontWeight":"bold","align":"center","baseline":"alphabetic","color":"#000000"},"encoding":{"text":{"field":"label"},"x":{"datum":0.0006537},"y":{"datum":-12103}}}
]},
{"width":577,"height":287,"layer":[
 {"data":{"name":"p11"},"mark":{"type":"point","shape":"circle","filled":true,"fill":"#00b0f0","stroke":"#4a7ebb","strokeWidth":1.3,"size":390,"opacity":1},
  "encoding":{"x":{"field":"x","type":"quantitative","scale":{"domain":[0.0005,0.0011],"nice":false,"zero":false},"axis":{"values":[0.0005,0.0007,0.0009,0.0011],"format":"~g","title":"GS2V1 INSEY","titleY":137}},
   "y":{"field":"y","type":"quantitative","scale":{"domain":[0,15000],"nice":false,"zero":false},"axis":{"values":[0,5000,10000,15000],"format":"d","title":null}}}},
 {"data":{"name":"p11"},"transform":[{"regression":"y","on":"x","method":"exp"}],"mark":{"type":"line","color":"#000000","strokeWidth":1.5},"encoding":{"x":{"field":"x","type":"quantitative"},"y":{"field":"y","type":"quantitative"}}},
 {"data":{"values":[{"label":"Corn Yield, kg ha⁻¹"}]},"mark":{"type":"text","font":"Liberation Serif","fontSize":48,"fontWeight":"bold","align":"center","baseline":"top","angle":270,"color":"#000000"},"encoding":{"text":{"field":"label"},"x":{"datum":0.000265},"y":{"datum":2404}}},
 {"data":{"values":[{"label":"High Clay Sites"}]},"mark":{"type":"text","font":"Liberation Serif","fontSize":59,"fontWeight":"bold","align":"center","baseline":"alphabetic","color":"#000000"},"encoding":{"text":{"field":"label"},"x":{"datum":0.0007153},"y":{"datum":16045}}},
 {"data":{"values":[{"label":"y = 1082.5e"}]},"mark":{"type":"text","font":"Liberation Serif","fontSize":50,"fontWeight":"bold","align":"left","baseline":"alphabetic","color":"#000000"},"encoding":{"text":{"field":"label"},"x":{"datum":0.0004883},"y":{"datum":11524}}},
 {"data":{"values":[{"label":"2065.4x"}]},"mark":{"type":"text","font":"Liberation Serif","fontSize":33,"fontWeight":"bold","align":"left","baseline":"alphabetic","color":"#000000"},"encoding":{"text":{"field":"label"},"x":{"datum":0.00073},"y":{"datum":12298}}},
 {"data":{"values":[{"label":"R² = 0.5525"}]},"mark":{"type":"text","font":"Liberation Serif","fontSize":50,"fontWeight":"bold","align":"left","baseline":"alphabetic","color":"#000000"},"encoding":{"text":{"field":"label"},"x":{"datum":0.0005395},"y":{"datum":8493}}}
]},
{"width":695,"height":256,"layer":[
 {"data":{"name":"p12"},"mark":{"type":"point","shape":"M0,-1.1L1,1L-1,1Z","filled":true,"fill":"#00b050","stroke":"#4a7ebb","strokeWidth":1.3,"size":462,"opacity":1},
  "encoding":{"x":{"field":"x","type":"quantitative","scale":{"domain":[0.0004,0.0014],"nice":false,"zero":false},"axis":{"values":[0.0004,0.0009,0.0014],"format":"~g","title":"GSV1 INSEY","titleY":137}},
   "y":{"field":"y","type":"quantitative","scale":{"domain":[0,15000],"nice":false,"zero":false},"axis":{"values":[0,5000,10000,15000],"format":"d","title":null}}}},
 {"data":{"name":"p12"},"transform":[{"regression":"y","on":"x","method":"exp"}],"mark":{"type":"line","color":"#000000","strokeWidth":1.5},"encoding":{"x":{"field":"x","type":"quantitative"},"y":{"field":"y","type":"quantitative"}}},
 {"data":{"values":[{"label":"Corn Yield, kg ha⁻¹"}]},"mark":{"type":"text","font":"Liberation Serif","fontSize":48,"fontWeight":"bold","align":"center","baseline":"top","angle":270,"color":"#000000"},"encoding":{"text":{"field":"label"},"x":{"datum":0.000072},"y":{"datum":2754}}},
 {"data":{"values":[{"label":"Medium Textured Sites"}]},"mark":{"type":"text","font":"Liberation Serif","fontSize":59,"fontWeight":"bold","align":"center","baseline":"alphabetic","color":"#000000"},"encoding":{"text":{"field":"label"},"x":{"datum":0.000777},"y":{"datum":18047}}},
 {"data":{"values":[{"label":"y = 3547.9e"}]},"mark":{"type":"text","font":"Liberation Serif","fontSize":50,"fontWeight":"bold","align":"left","baseline":"alphabetic","color":"#000000"},"encoding":{"text":{"field":"label"},"x":{"datum":0.001021},"y":{"datum":7660}}},
 {"data":{"values":[{"label":"1121.3x"}]},"mark":{"type":"text","font":"Liberation Serif","fontSize":33,"fontWeight":"bold","align":"left","baseline":"alphabetic","color":"#000000"},"encoding":{"text":{"field":"label"},"x":{"datum":0.001365},"y":{"datum":8570}}},
 {"data":{"values":[{"label":"R² = 0.4662"}]},"mark":{"type":"text","font":"Liberation Serif","fontSize":50,"fontWeight":"bold","align":"left","baseline":"alphabetic","color":"#000000"},"encoding":{"text":{"field":"label"},"x":{"datum":0.001099},"y":{"datum":4250}}},
 {"data":{"values":[{"label":"Greeseeker NDVI INSEY and Yield relationship\nat 5-8 leaf stage"}]},"mark":{"type":"text","font":"Liberation Serif","fontSize":46,"fontWeight":"normal","align":"center","baseline":"alphabetic","lineBreak":"\n","lineHeight":54,"color":"#000000"},"encoding":{"text":{"field":"label"},"x":{"datum":0.0008993},"y":{"datum":-12129}}}
]}
]
}
